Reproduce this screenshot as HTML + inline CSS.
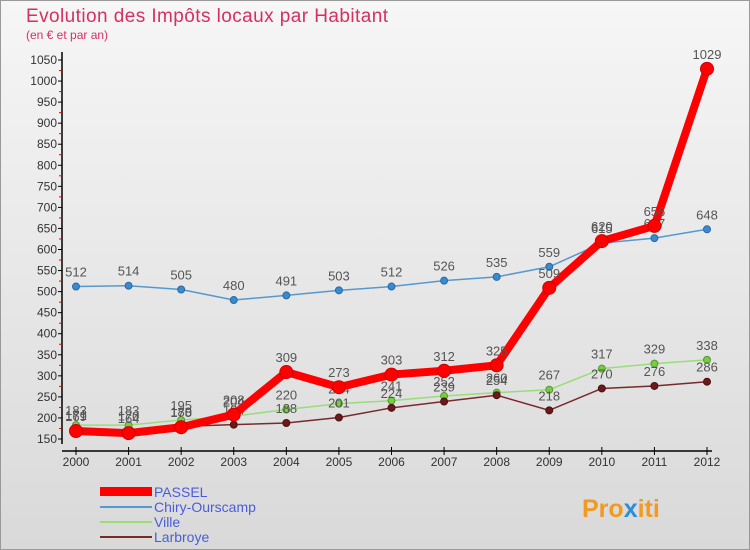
<!DOCTYPE html>
<html><head><meta charset="utf-8"><style>
body{margin:0;width:750px;height:550px;overflow:hidden;font-family:"Liberation Sans",sans-serif}
svg{display:block}
</style></head><body>
<svg width="750" height="550">
<defs>
<linearGradient id="bg" x1="0" y1="0" x2="0" y2="1"><stop offset="0" stop-color="#f6f6f6"/><stop offset="1" stop-color="#d9d9d9"/></linearGradient>
</defs>
<rect x="0.5" y="0.5" width="749" height="549" fill="url(#bg)" stroke="#999"/>
<text x="26" y="22" font-size="19" fill="#d6305f" textLength="362">Evolution des Impôts locaux par Habitant</text>
<text x="26" y="39" font-size="12" fill="#d6305f">(en € et par an)</text>
<g id="axes"></g>
<g id="series"></g>
<g>
<rect x="100" y="487" width="52" height="9" fill="#ff0000"/>
<text x="154" y="497" font-size="14" fill="#4a5dd8">PASSEL</text>
<rect x="100" y="506" width="52" height="2" fill="#5599d0"/>
<text x="154" y="512" font-size="14" fill="#4a5dd8">Chiry-Ourscamp</text>
<rect x="100" y="521" width="52" height="2" fill="#99dd77"/>
<text x="154" y="527" font-size="14" fill="#4a5dd8">Ville</text>
<rect x="100" y="536" width="52" height="2" fill="#7a2a2a"/>
<text x="154" y="542" font-size="14" fill="#4a5dd8">Larbroye</text>
</g>
<text x="582" y="517" font-size="25" font-weight="bold" fill="#f29a1f">Pro<tspan fill="#2a8fd6">x</tspan>iti</text>
</svg>
<script>
const years=[2000,2001,2002,2003,2004,2005,2006,2007,2008,2009,2010,2011,2012];
const passel=[169,164,178,208,309,273,303,312,325,509,620,656,1029];
const chiry=[512,514,505,480,491,503,512,526,535,559,615,627,648];
const ville=[183,183,195,204,220,234,241,252,260,267,317,329,338];
const larbroye=[171,170,180,184,188,201,224,239,254,218,270,276,286];
const yTicks=[150,200,250,300,350,400,450,500,550,600,650,700,750,800,850,900,950,1000,1050];
const NS='http://www.w3.org/2000/svg';
const x0=76,x1=707,yb=439,yt=60,vmin=150,vmax=1050;
function X(i){return x0+(x1-x0)*i/(years.length-1);}
function Y(v){return yb-(v-vmin)*(yb-yt)/(vmax-vmin);}
function mk(tag,attrs,parent){const e=document.createElementNS(NS,tag);for(const k in attrs)e.setAttribute(k,attrs[k]);parent.appendChild(e);return e;}
const ax=document.getElementById('axes');
let l=mk('line',{x1:62,y1:yt-8,x2:62,y2:yb+5,stroke:'#000','stroke-width':1.5},ax);


l=mk('line',{x1:62,y1:yb+12,x2:x1+5,y2:yb+12,stroke:'#000','stroke-width':1.5},ax);


yTicks.forEach(v=>{
  mk('line',{x1:58,y1:Y(v),x2:62,y2:Y(v),stroke:'#000'},ax);
  if(v<vmax) mk('line',{x1:59,y1:Y(v+25),x2:62,y2:Y(v+25),stroke:'#e00'},ax);
  const t=mk('text',{x:57,y:Y(v)+4,'font-size':12,'text-anchor':'end',fill:'#333'},ax);
  t.textContent=v;
  
  
});
years.forEach((yr,i)=>{
  mk('line',{x1:X(i),y1:yb+8,x2:X(i),y2:yb+16,stroke:'#000'},ax);
  const t=mk('text',{x:X(i),y:yb+27,'font-size':12,'text-anchor':'middle',fill:'#333'},ax);
  t.textContent=yr;
  
  
});
const sg=document.getElementById('series');
function series(name,data,color,w,r,dot,dotStroke){
  const g=mk('g',{},sg);
  
  
  const p=mk('polyline',{points:data.map((v,i)=>X(i)+','+Y(v)).join(' '),fill:'none',stroke:color,'stroke-width':w,'stroke-linejoin':'round'},g);
  
  
  data.forEach((v,i)=>{
    const c=mk('circle',{cx:X(i),cy:Y(v),r:r,fill:dot,stroke:dotStroke,'stroke-width':1},g);
    
    
    const t=mk('text',{x:X(i),y:Y(v)-10,'font-size':13,'text-anchor':'middle',fill:'#555'},g);
    t.textContent=v;
    
    
  });
}
series('chiry-ourscamp',chiry,'#5599d0',1.5,3.5,'#3a8ad0','#2a6aa0');
series('ville',ville,'#99dd77',1.5,3.5,'#77cc44','#559933');
series('larbroye',larbroye,'#7a2a2a',1.5,3.5,'#6a1a1a','#4a1010');
series('passel',passel,'#ff0000',8,6.5,'#ff0000','#cc0000');
</script>
</body></html>
